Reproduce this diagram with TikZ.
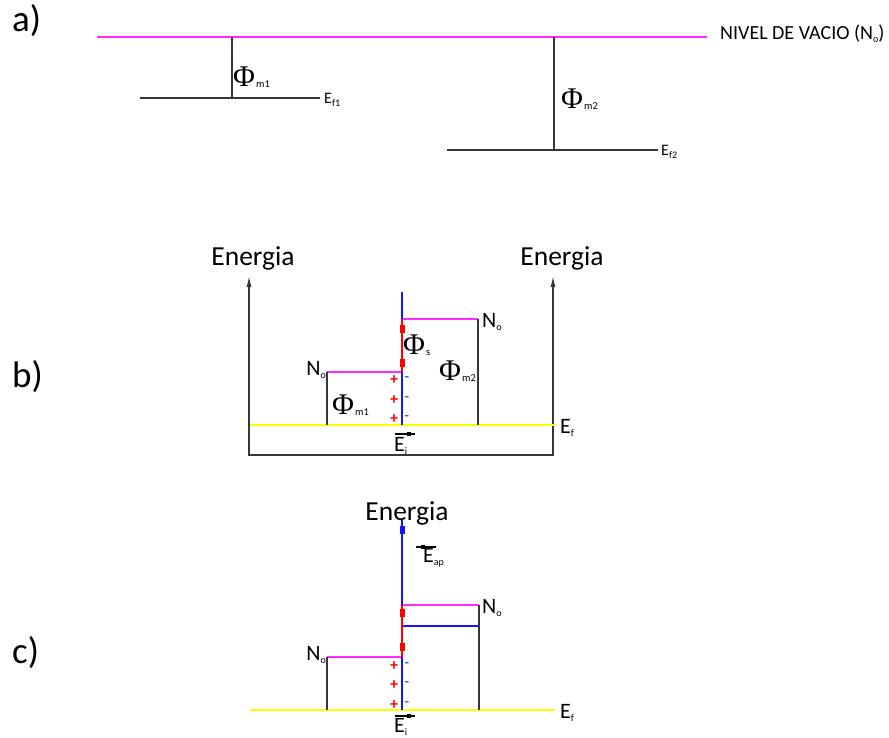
\documentclass[tikz,border=0pt]{standalone}
\usepackage{fontspec}
\setmainfont{Carlito}
\newfontfamily\phifont{Liberation Serif}
\usetikzlibrary{arrows.meta}
\definecolor{mag}{RGB}{255,40,255}
\definecolor{yel}{RGB}{255,255,0}
\definecolor{dgray}{RGB}{55,55,55}
\definecolor{bl}{RGB}{20,20,255}
\definecolor{rd}{RGB}{255,0,0}
\newcommand{\subx}[1]{\raisebox{-3pt}{\fontsize{10}{10}\selectfont #1}}
\newcommand{\phisym}[1]{{\phifont\fontsize{30}{30}\selectfont Φ}\kern1pt\raisebox{-1pt}{\fontsize{10.5}{10.5}\selectfont #1}}
\tikzset{
  blk/.style={draw=dgray, line width=1.3pt},
  vac/.style={draw=mag, line width=1.3pt},
  fermi/.style={draw=yel, line width=1.6pt},
  bline/.style={draw=bl, line width=1.3pt},
  rline/.style={draw=rd, line width=1.3pt},
  panel/.style={font=\fontsize{37}{37}\selectfont, inner sep=0pt, anchor=base west},
  energ/.style={font=\fontsize{27.5}{27.5}\selectfont, inner sep=0pt},
  lab/.style={font=\fontsize{22}{22}\selectfont, inner sep=0pt, anchor=west},
  smlab/.style={font=\fontsize{16}{16}\selectfont, inner sep=0pt, anchor=west},
  phil/.style={inner sep=0pt, anchor=west},
  mk/.style={minimum width=5pt, minimum height=8pt, inner sep=0pt},
  plus/.style={text=rd, font=\fontsize{16}{16}\selectfont\bfseries, inner sep=0pt},
  minus/.style={text=bl, font=\fontsize{15}{15}\selectfont, inner sep=0pt},
  axarrow/.style={blk, {Latex[length=11pt,width=5pt]}-{Latex[length=11pt,width=5pt]}},
}
\begin{document}
\begin{tikzpicture}[x=1pt,y=-1pt]
\useasboundingbox (0,0) rectangle (889,738);
% ---------------- a) ----------------
\node[panel] (pa) at (12,32) {a)};
\coordinate (vL) at (97,37); \coordinate (vR) at (707,37);
\draw[vac] (vL) -- (vR);
\node[font=\fontsize{20}{20}\selectfont, inner sep=0pt, anchor=west] (nv) at (720,34) {NIVEL DE VACIO (N\subx{o})};
\coordinate (a1t) at (232,37); \coordinate (a1b) at (232,98);
\coordinate (f1L) at (140,98); \coordinate (f1R) at (320,98);
\draw[blk] (f1L) -- (f1R);
\draw[blk] (a1t) -- (a1b);
\node[phil] (phim1a) at (233,77) {\phisym{m1}};
\node[smlab] (ef1) at (324,100) {E\subx{f1}};
\coordinate (a2t) at (554,37); \coordinate (a2b) at (554,150);
\coordinate (f2L) at (447,150); \coordinate (f2R) at (658,150);
\draw[blk] (f2L) -- (f2R);
\draw[blk] (a2t) -- (a2b);
\node[phil] (phim2a) at (561,99) {\phisym{m2}};
\node[smlab] (ef2) at (661,152) {E\subx{f2}};
% ---------------- b) ----------------
\node[panel] (pb) at (12,387) {b)};
\node[energ] (enL) at (253,258) {Energia};
\node[energ] (enR) at (562,258) {Energia};
\coordinate (bLt) at (249,276); \coordinate (bLb) at (249,455);
\coordinate (bRb) at (553,455); \coordinate (bRt) at (553,276);
\draw[axarrow] (bLt) -- (bLb) -- (bRb) -- (bRt);
\coordinate (bfL) at (250,425); \coordinate (bfR) at (555,425);
\draw[fermi] (bfL) -- (bfR);
\node[lab] (efb) at (560,428) {E\subx{f}};
\coordinate (bc0) at (402,292); \coordinate (bc1) at (402,319);
\coordinate (bc2) at (402,372); \coordinate (bc3) at (402,425);
\coordinate (bm2) at (478,319); \coordinate (bm2b) at (478,425);
\coordinate (bm1) at (327,372); \coordinate (bm1b) at (327,425);
\draw[vac] (bc1) -- (bm2);
\draw[blk] (bm2) -- (bm2b);
\draw[vac] (bm1) -- (bc2);
\draw[blk] (bm1) -- (bm1b);
\draw[bline] (bc0) -- (bc1);
\draw[rline] (bc1) -- (bc2);
\draw[bline] (bc2) -- (bc3);
\node[mk, fill=rd] (bmk1) at (402,329) {};
\node[mk, fill=rd] (bmk2) at (402,363) {};
\node[lab] (nob2) at (482,322) {N\subx{o}};
\node[lab, anchor=east] (nob1) at (326,370) {N\subx{o}};
\node[phil] (phis) at (403,345) {\phisym{s}};
\node[phil] (phim2b) at (439,371) {\phisym{m2}};
\node[phil] (phim1b) at (332,405) {\phisym{m1}};
\node[plus] (bp1) at (394,380) {+};
\node[plus] (bp2) at (394,400) {+};
\node[plus] (bp3) at (394,419) {+};
\node[minus] (bn1) at (407,379) {-};
\node[minus] (bn2) at (407,399) {-};
\node[minus] (bn3) at (407,418) {-};
\coordinate (beiL) at (395,434); \coordinate (beiR) at (415,434);
\draw[draw=black, line width=1.2pt] (beiL) -- (beiR);
\node[fill=black, minimum width=4pt, minimum height=4pt, inner sep=0pt] (beisq) at (409,434) {};
\node[lab] (eib) at (394,446) {E\subx{i}};
% ---------------- c) ----------------
\node[panel] (pc) at (12,663) {c)};
\node[energ] (enC) at (407,513) {Energia};
\coordinate (cc0) at (402,520); \coordinate (cc1) at (402,605);
\coordinate (cc2) at (402,657); \coordinate (cc3) at (402,710);
\coordinate (cm2) at (479,605); \coordinate (cm2b) at (479,710);
\coordinate (cbl) at (402,626); \coordinate (cbr) at (479,626);
\coordinate (cm1) at (327,657); \coordinate (cm1b) at (327,710);
\coordinate (cfL) at (250,710); \coordinate (cfR) at (555,710);
\draw[fermi] (cfL) -- (cfR);
\draw[vac] (cc1) -- (cm2);
\draw[blk] (cm2) -- (cm2b);
\draw[bline] (cbl) -- (cbr);
\draw[vac] (cm1) -- (cc2);
\draw[blk] (cm1) -- (cm1b);
\draw[bline] (cc0) -- (cc1);
\draw[rline] (cc1) -- (cc2);
\draw[bline] (cc2) -- (cc3);
\node[mk, fill=bl] (cmk0) at (402,530) {};
\node[mk, fill=rd] (cmk1) at (402,613) {};
\node[mk, fill=rd] (cmk2) at (402,647) {};
\node[lab] (noc2) at (482,608) {N\subx{o}};
\node[lab, anchor=east] (noc1) at (326,655) {N\subx{o}};
\node[lab] (efc) at (560,713) {E\subx{f}};
\node[plus] (cp1) at (394,666) {+};
\node[plus] (cp2) at (394,685) {+};
\node[plus] (cp3) at (394,705) {+};
\node[minus] (cn1) at (407,665) {-};
\node[minus] (cn2) at (407,684) {-};
\node[minus] (cn3) at (407,704) {-};
\coordinate (caL) at (416,547); \coordinate (caR) at (436,547);
\draw[draw=black, line width=1.2pt] (caL) -- (caR);
\node[fill=black, minimum width=4pt, minimum height=4pt, inner sep=0pt] (casq) at (423,547) {};
\node[lab] (eap) at (423,558) {E\subx{ap}};
\coordinate (ceiL) at (395,716); \coordinate (ceiR) at (415,716);
\draw[draw=black, line width=1.2pt] (ceiL) -- (ceiR);
\node[fill=black, minimum width=4pt, minimum height=4pt, inner sep=0pt] (ceisq) at (409,716) {};
\node[lab] (eic) at (394,727) {E\subx{i}};
\end{tikzpicture}
\end{document}
